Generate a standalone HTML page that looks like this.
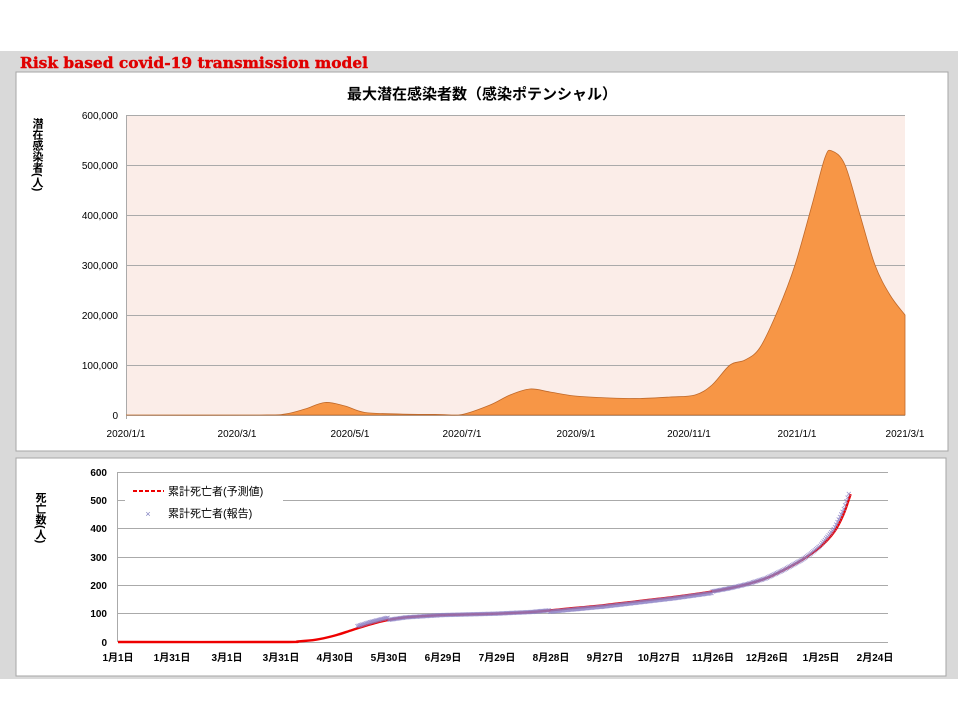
<!DOCTYPE html>
<html><head><meta charset="utf-8"><style>
body{margin:0;width:960px;height:720px;background:#fff;overflow:hidden;font-family:"Liberation Sans","Noto Sans CJK JP",sans-serif}
svg{position:absolute;left:0;top:0}
</style></head><body>
<svg width="960" height="720" xmlns="http://www.w3.org/2000/svg" font-family="Liberation Sans, Noto Sans CJK JP, sans-serif">
<rect x="0" y="51" width="958" height="628" fill="#d9d9d9"/>
<text x="20" y="68" font-family="DejaVu Serif, serif" font-weight="bold" font-size="15" fill="#e00000" textLength="348" lengthAdjust="spacingAndGlyphs" stroke="#e00000" stroke-width="0.4">Risk based covid-19 transmission model</text>
<rect x="16" y="72" width="932" height="379" fill="#fff" stroke="#a6a6a6"/>
<rect x="16" y="458" width="930" height="218" fill="#fff" stroke="#a6a6a6"/>
<text x="482" y="99" text-anchor="middle" font-weight="bold" font-size="15">最大潜在感染者数（感染ポテンシャル）</text>
<rect x="126" y="115" width="779" height="300" fill="#fbede8"/>
<g stroke="#aaa" stroke-width="1">
<line x1="126" x2="905" y1="115.5" y2="115.5"/><line x1="126" x2="905" y1="165.5" y2="165.5"/><line x1="126" x2="905" y1="215.5" y2="215.5"/><line x1="126" x2="905" y1="265.5" y2="265.5"/><line x1="126" x2="905" y1="315.5" y2="315.5"/><line x1="126" x2="905" y1="365.5" y2="365.5"/><line x1="126" x2="905" y1="415.5" y2="415.5"/>
<line x1="126.5" x2="126.5" y1="115" y2="419"/>
</g>
<path id="area" fill="#f79646" stroke="#c0692a" stroke-width="0.8"/>
<g font-size="10" text-anchor="end" fill="#000">
<text x="118" y="119">600,000</text><text x="118" y="169">500,000</text><text x="118" y="219">400,000</text><text x="118" y="269">300,000</text><text x="118" y="319">200,000</text><text x="118" y="369">100,000</text><text x="118" y="419">0</text>
</g>
<g font-size="10" text-anchor="middle">
<text x="126" y="437">2020/1/1</text><text x="237" y="437">2020/3/1</text><text x="350" y="437">2020/5/1</text><text x="462" y="437">2020/7/1</text><text x="576" y="437">2020/9/1</text><text x="689" y="437">2020/11/1</text><text x="797" y="437">2021/1/1</text><text x="905" y="437">2021/3/1</text>
</g>
<text x="37" y="118" font-size="11" font-weight="bold" writing-mode="tb" style="writing-mode:vertical-rl">潜在感染者(人)</text>

<g stroke="#aaa" stroke-width="1">
<line x1="118" x2="888" y1="472.5" y2="472.5"/><line x1="118" x2="888" y1="500.5" y2="500.5"/><line x1="118" x2="888" y1="528.5" y2="528.5"/><line x1="118" x2="888" y1="557.5" y2="557.5"/><line x1="118" x2="888" y1="585.5" y2="585.5"/><line x1="118" x2="888" y1="613.5" y2="613.5"/><line x1="118" x2="888" y1="642.5" y2="642.5"/>
<line x1="117.5" x2="117.5" y1="472" y2="642"/>
</g>
<rect x="125" y="478" width="158" height="46" fill="#fff"/>
<g font-size="10" text-anchor="end" font-weight="bold">
<text x="107" y="476">600</text><text x="107" y="504">500</text><text x="107" y="532">400</text><text x="107" y="561">300</text><text x="107" y="589">200</text><text x="107" y="617">100</text><text x="107" y="646">0</text>
</g>
<g font-size="10" text-anchor="middle" font-weight="bold">
<text x="118" y="661">1月1日</text><text x="172" y="661">1月31日</text><text x="227" y="661">3月1日</text><text x="281" y="661">3月31日</text><text x="335" y="661">4月30日</text><text x="389" y="661">5月30日</text><text x="443" y="661">6月29日</text><text x="497" y="661">7月29日</text><text x="551" y="661">8月28日</text><text x="605" y="661">9月27日</text><text x="659" y="661">10月27日</text><text x="713" y="661">11月26日</text><text x="767" y="661">12月26日</text><text x="821" y="661">1月25日</text><text x="875" y="661">2月24日</text>
</g>
<text x="40" y="492" font-size="11" font-weight="bold" writing-mode="tb" style="writing-mode:vertical-rl">死亡数(人)</text>
<line x1="133" x2="164" y1="491" y2="491" stroke="#e00" stroke-width="2" stroke-dasharray="4,2"/>
<text x="168" y="495" font-size="11">累計死亡者(予測値)</text>
<text x="148" y="517" font-size="9" fill="#8080c0" text-anchor="middle">×</text>
<text x="168" y="517" font-size="11">累計死亡者(報告)</text>
<path id="red" fill="none" stroke="#e00" stroke-width="2.4"/>
<g id="crosses" stroke="#8a7fc4" stroke-width="0.8" fill="none" opacity="0.85"></g>
</svg>
<script>
function cr(p){let d="M"+p[0][0]+","+p[0][1];for(let i=0;i<p.length-1;i++){const a=p[i-1]||p[i],b=p[i],c=p[i+1],e=p[i+2]||c;d+=" C"+(b[0]+(c[0]-a[0])/6)+","+(b[1]+(c[1]-a[1])/6)+" "+(c[0]-(e[0]-b[0])/6)+","+(c[1]-(e[1]-b[1])/6)+" "+c[0]+","+c[1];}return d;}
const A=[[126,0],[260,0],[285,2],[305,12],[325,25],[345,18],[365,5],[400,2],[440,1],[462,1],[490,20],[510,40],[530,52],[550,46],[575,38],[610,34],[640,33],[670,36],[695,40],[712,60],[730,100],[745,110],[760,135],[778,210],[795,300],[812,420],[825,515],[832,528],[845,500],[860,400],[875,300],[890,240],[905,200]].map(q=>[q[0],415-q[1]*0.5]);
document.getElementById('area').setAttribute('d',cr(A)+" L905,415 L126,415 Z");
const R=[[0,0],[90,0],[100,2],[110,8],[120,22],[130,42],[140,62],[150,78],[160,87],[180,95],[210,100],[230,106],[250,118],[270,130],[290,145],[310,160],[330,178],[340,190],[350,205],[360,225],[370,255],[380,290],[390,335],[398,390],[403,450],[407,522]];
const RP=R.map(q=>[118+1.8*q[0],642-q[1]*0.2833]);
document.getElementById('red').setAttribute('d',cr(RP));
function val(d){for(let i=0;i<R.length-1;i++){if(d<=R[i+1][0]){const t=(d-R[i][0])/(R[i+1][0]-R[i][0]);return R[i][1]+t*(R[i+1][1]-R[i][1]);}}return 522;}
let s="";
for(let d=133;d<=406;d+=0.7){let v=val(d);if(d<150)v+=8;if(d>385)v+=(d-385)*0.9;if(d>240&&d<330)v-=5;const x=118+1.8*d,y=642-v*0.2833;s+=`M${x-2},${y-2}L${x+2},${y+2}M${x-2},${y+2}L${x+2},${y-2}`;}
const g=document.getElementById('crosses');const p=document.createElementNS("http://www.w3.org/2000/svg","path");p.setAttribute('d',s);g.appendChild(p);
</script>
</body></html>
